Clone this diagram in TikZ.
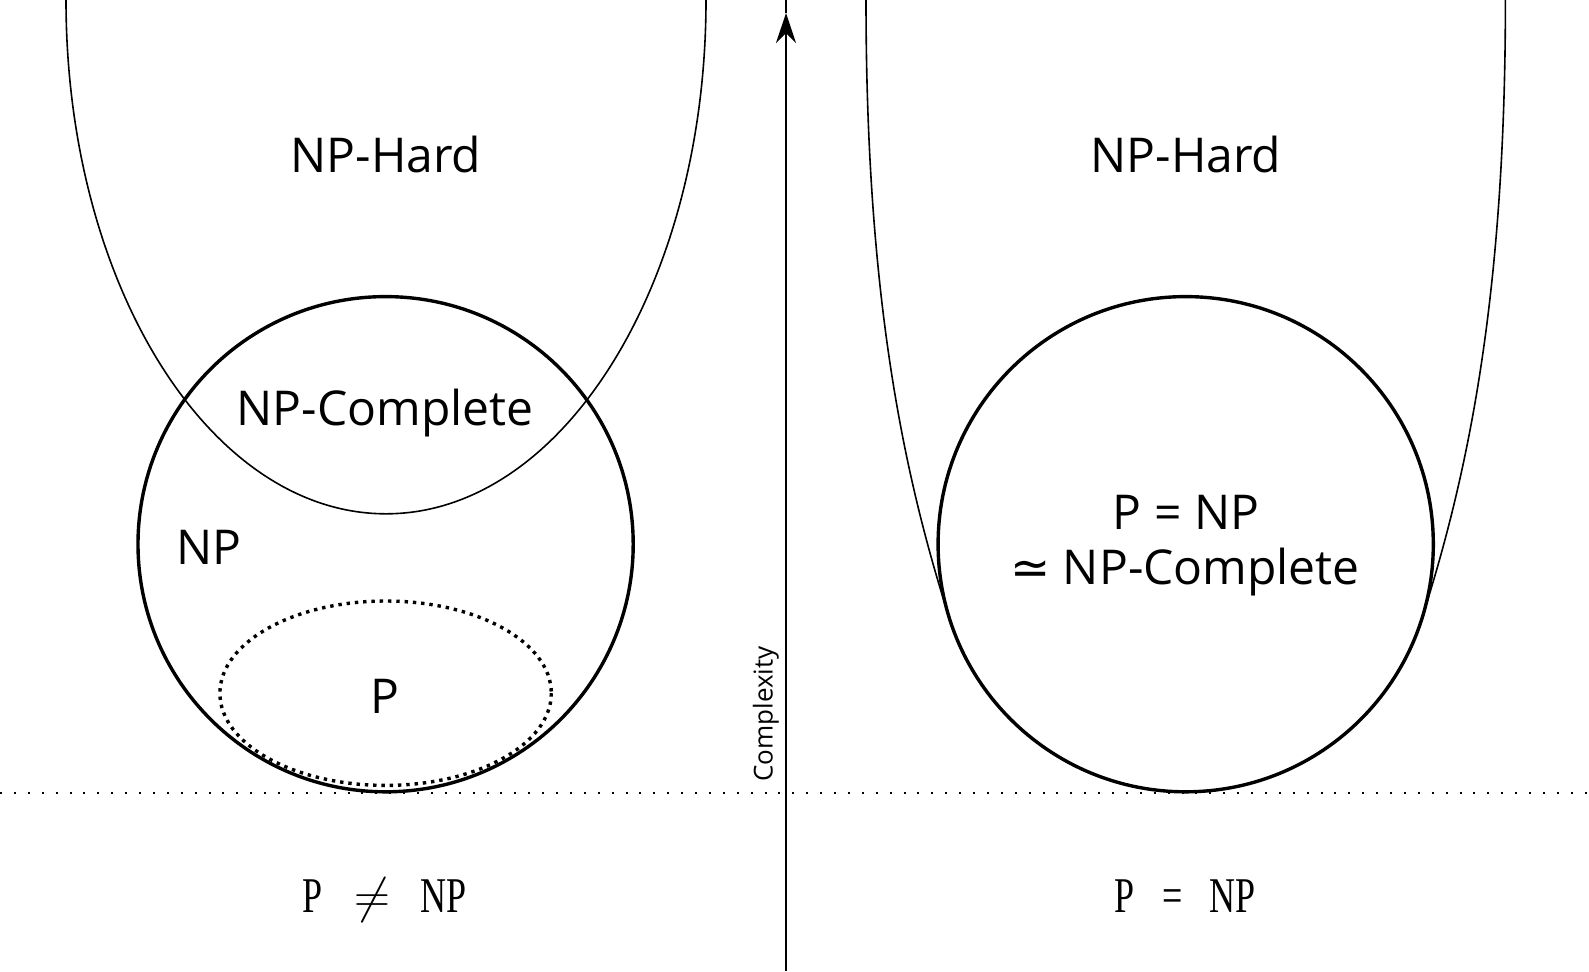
\documentclass[tikz,border=0pt]{standalone}
\usepackage{fontspec}
\setmainfont{Open Sans}
\newfontfamily\serifn[FakeStretch=0.72]{Liberation Serif}
\newfontfamily\dejavu{DejaVu Sans}
\usetikzlibrary{arrows.meta}
\tikzset{
  setline/.style={line width=1.7pt},
  hardline/.style={line width=0.8pt},
  lbl/.style={font=\fontsize{24}{28}\selectfont, inner sep=0pt, anchor=base},
  eqlbl/.style={font=\serifn\fontsize{25}{30}\selectfont, inner sep=0pt, anchor=base},
  pdots/.style={line width=1.7pt, dash pattern=on 1.7pt off 2.45pt},
  basedots/.style={line width=1pt, dash pattern=on 1pt off 5.95pt},
  axisline/.style={line width=1pt}
}
\begin{document}
\begin{tikzpicture}[x=0.5pt, y=-0.5pt]
\useasboundingbox (0,0) rectangle (1589,971);
% coordinates
\coordinate (lc) at (385.6,544.2);
\coordinate (rc) at (1185.7,544.2);
\coordinate (axb) at (786,971);
\coordinate (axh) at (786,13);
\coordinate (axt) at (786,0);
\coordinate (bl) at (0,793.3);
\coordinate (br) at (1589,793.3);
% baseline
\draw[basedots] (bl) -- (br);
% left NP-hard half ellipse
\draw[hardline] (66,0) arc[start angle=180, end angle=0, x radius=320, y radius=513.8];
% right NP-hard U
\draw[hardline] (866,0) .. controls (866,300) and (904.2,476.5) .. (949.8,619.5)
  arc[start angle=162.3, end angle=17.7, radius=247.6]
  .. controls (1467.2,476.5) and (1505.4,300) .. (1505.4,0);
% circles
\draw[setline] (lc) circle[radius=247.6];
\draw[setline] (rc) circle[radius=247.6];
% P ellipse
\draw[pdots] (385.6,693.2) ellipse[x radius=165.7, y radius=92.2];
% axis
\draw[axisline] (axh) -- (axt);
\draw[axisline, -{Stealth[length=15pt, width=10pt, inset=5pt]}] (axb) -- (axh);
% labels
\node[lbl] (lhard) at (386,172.7) {NP-Hard};
\node[lbl] (rhard) at (1186,172.7) {NP-Hard};
\node[lbl] (lnpc) at (385,425) {NP-Complete};
\node[lbl] (lnp) at (209.3,564) {NP};
\node[lbl] (lpp) at (385,713.5) {P};
\node[lbl] (req1) at (1186,529) {P = NP};
\node[lbl] (req2) at (1185,584.7) {{\dejavu ≃} NP-Complete};
\node[font=\fontsize{13}{15}\selectfont, inner sep=0pt, rotate=90, anchor=base west] (cx) at (772.7,782) {Complexity};
% bottom equations
\node[eqlbl] (bp1) at (312.7,912) {P};
\node[inner sep=0pt, anchor=base, font=\fontsize{26}{30}\selectfont] (bneq) at (372.5,912) {$\neq$};
\node[eqlbl] (bnp1) at (443.4,912) {NP};
\node[eqlbl] (bp2) at (1124.5,912) {P};
\node[eqlbl] (beq) at (1172.5,912) {=};
\node[eqlbl] (bnp2) at (1232.5,912) {NP};
\end{tikzpicture}
\end{document}
